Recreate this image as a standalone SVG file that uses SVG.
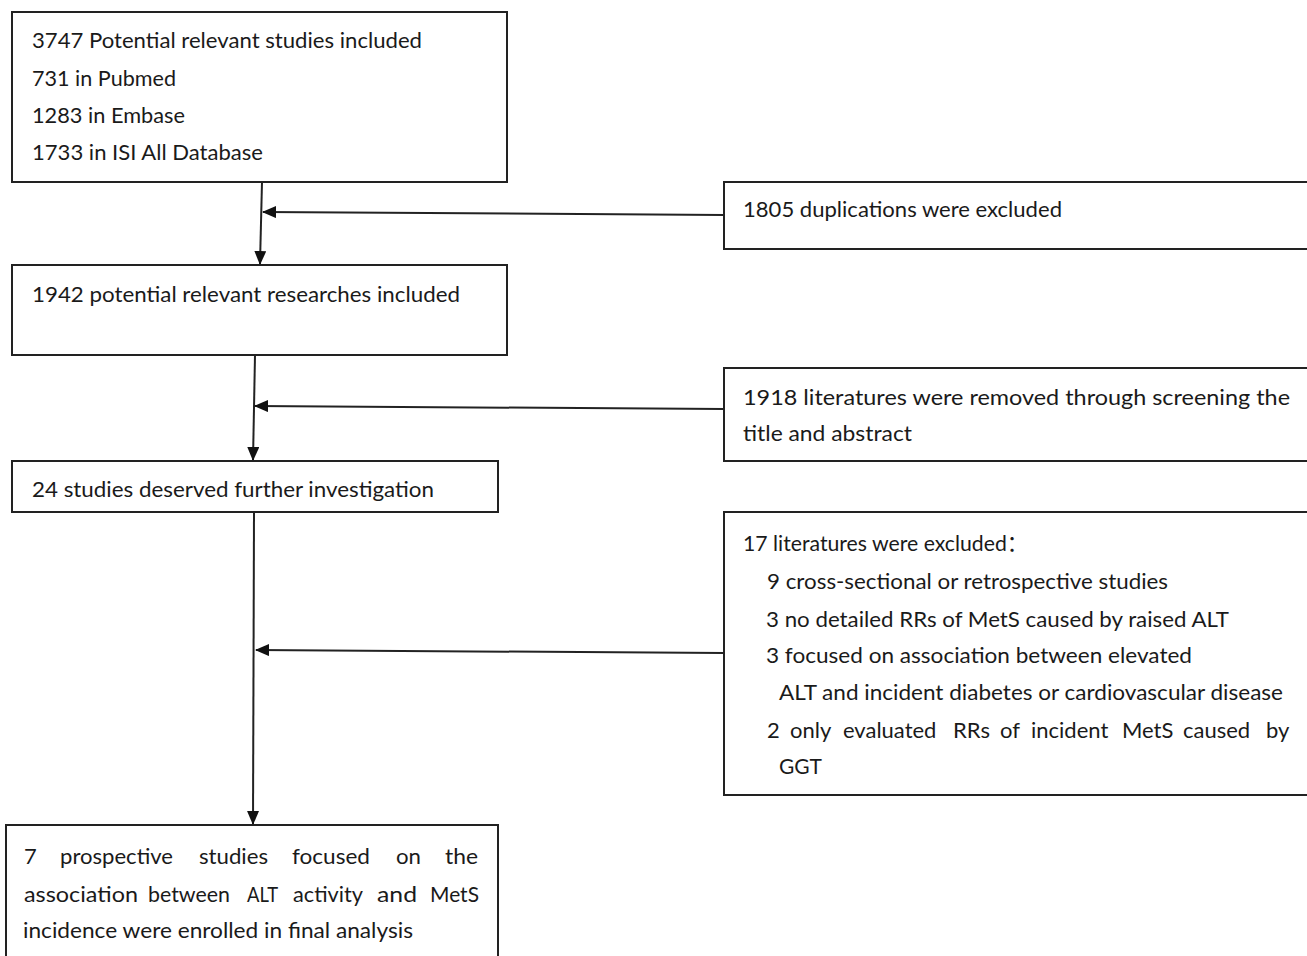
<svg xmlns="http://www.w3.org/2000/svg" width="1307" height="956" viewBox="0 0 1307 956">
<style>
.box{fill:#fff;stroke:#222;stroke-width:2}
.t{font-family:Lato,"Open Sans","Noto Sans CJK SC",sans-serif;font-size:22px;fill:#1a1a1a}
.c{stroke:#222;stroke-width:2;fill:none}
</style>
<defs>
<marker id="ah" markerWidth="14" markerHeight="12" refX="13" refY="6" orient="auto" markerUnits="userSpaceOnUse" viewBox="0 0 14 12">
<path d="M0,0 L14,6 L0,12 z" fill="#111"/>
</marker>
</defs>
<rect width="1307" height="956" fill="#fff"/>
<g id="connectors">
<line class="c" x1="262" y1="182" x2="260" y2="264" marker-end="url(#ah)"/>
<line class="c" x1="724" y1="215" x2="263" y2="212" marker-end="url(#ah)"/>
<line class="c" x1="255" y1="355" x2="253" y2="460" marker-end="url(#ah)"/>
<line class="c" x1="724" y1="409" x2="255" y2="406" marker-end="url(#ah)"/>
<line class="c" x1="254" y1="512" x2="253" y2="824" marker-end="url(#ah)"/>
<line class="c" x1="724" y1="653" x2="256" y2="650" marker-end="url(#ah)"/>
</g>
<g id="n1">
<rect class="box" x="12" y="12" width="495" height="170"/>
<text class="t" x="32" y="48" textLength="390" lengthAdjust="spacingAndGlyphs">3747 Potential relevant studies included</text>
<text class="t" x="32" y="86" textLength="144" lengthAdjust="spacingAndGlyphs">731 in Pubmed</text>
<text class="t" x="32" y="123" textLength="153" lengthAdjust="spacingAndGlyphs">1283 in Embase</text>
<text class="t" x="32" y="160" textLength="231" lengthAdjust="spacingAndGlyphs">1733 in ISI All Database</text>
</g>
<g id="n2">
<rect class="box" x="724" y="182" width="590" height="67"/>
<text class="t" x="743" y="217" textLength="319" lengthAdjust="spacingAndGlyphs">1805 duplications were excluded</text>
</g>
<g id="n3">
<rect class="box" x="12" y="265" width="495" height="90"/>
<text class="t" x="32" y="302" textLength="428" lengthAdjust="spacingAndGlyphs">1942 potential relevant researches included</text>
</g>
<g id="n4">
<rect class="box" x="724" y="368" width="590" height="93"/>
<text class="t" x="743" y="405" textLength="547" lengthAdjust="spacingAndGlyphs">1918 literatures were removed through screening the</text>
<text class="t" x="743" y="441" textLength="169" lengthAdjust="spacingAndGlyphs">title and abstract</text>
</g>
<g id="n5">
<rect class="box" x="12" y="461" width="486" height="51"/>
<text class="t" x="32" y="497" textLength="402" lengthAdjust="spacingAndGlyphs">24 studies deserved further investigation</text>
</g>
<g id="n6">
<rect class="box" x="724" y="512" width="590" height="283"/>
<text class="t" x="743" y="551" textLength="285" lengthAdjust="spacingAndGlyphs">17 literatures were excluded：</text>
<text class="t" x="767" y="589" textLength="401" lengthAdjust="spacingAndGlyphs">9 cross-sectional or retrospective studies</text>
<text class="t" x="766" y="627" textLength="463" lengthAdjust="spacingAndGlyphs">3 no detailed RRs of MetS caused by raised ALT</text>
<text class="t" x="766" y="663" textLength="426" lengthAdjust="spacingAndGlyphs">3 focused on association between elevated</text>
<text class="t" x="779" y="700" textLength="504" lengthAdjust="spacingAndGlyphs">ALT and incident diabetes or cardiovascular disease</text>
<text class="t" y="738"><tspan x="767">2</tspan> <tspan x="790">only</tspan> <tspan x="843">evaluated</tspan> <tspan x="953">RRs</tspan> <tspan x="1000">of</tspan> <tspan x="1031">incident</tspan> <tspan x="1122">MetS</tspan> <tspan x="1183">caused</tspan> <tspan x="1266">by</tspan></text>
<text class="t" x="779" y="774" textLength="43" lengthAdjust="spacingAndGlyphs">GGT</text>
</g>
<g id="n7">
<rect class="box" x="6" y="825" width="492" height="140"/>
<text class="t" x="24" y="864">7</text>
<text class="t" x="60" y="864" textLength="113" lengthAdjust="spacingAndGlyphs">prospective</text>
<text class="t" x="199" y="864" textLength="69" lengthAdjust="spacingAndGlyphs">studies</text>
<text class="t" x="292" y="864" textLength="78" lengthAdjust="spacingAndGlyphs">focused</text>
<text class="t" x="396" y="864" textLength="25" lengthAdjust="spacingAndGlyphs">on</text>
<text class="t" x="445" y="864" textLength="33" lengthAdjust="spacingAndGlyphs">the</text>
<text class="t" x="24" y="902" textLength="114" lengthAdjust="spacingAndGlyphs">association</text>
<text class="t" x="148" y="902" textLength="82" lengthAdjust="spacingAndGlyphs">between</text>
<text class="t" x="247" y="902" textLength="31" lengthAdjust="spacingAndGlyphs">ALT</text>
<text class="t" x="293" y="902" textLength="70" lengthAdjust="spacingAndGlyphs">activity</text>
<text class="t" x="377" y="902" textLength="40" lengthAdjust="spacingAndGlyphs">and</text>
<text class="t" x="430" y="902" textLength="49" lengthAdjust="spacingAndGlyphs">MetS</text>
<text class="t" x="23" y="938" textLength="390" lengthAdjust="spacingAndGlyphs">incidence were enrolled in final analysis</text>
</g>
</svg>
